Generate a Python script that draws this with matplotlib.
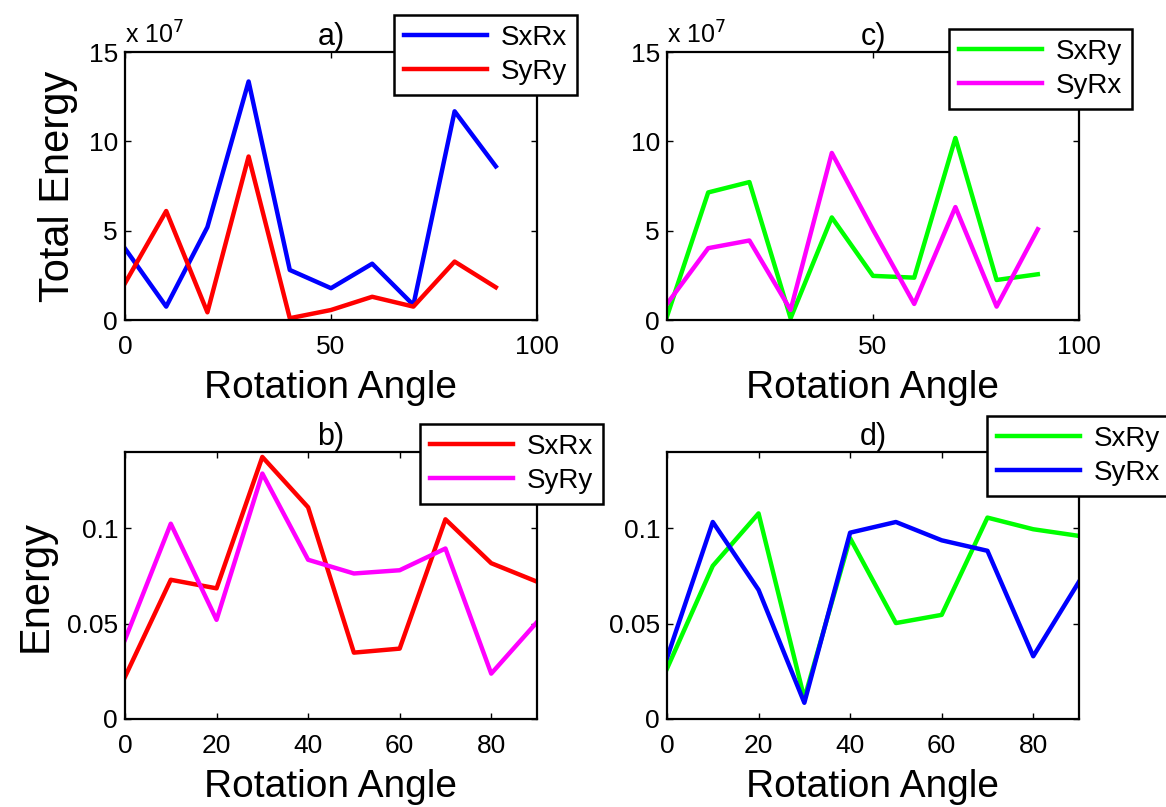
import matplotlib
matplotlib.use('Agg')
import matplotlib.pyplot as plt

# rotation angles (degrees)
angles = [0, 10, 20, 30, 40, 50, 60, 70, 80, 90]

# a) total energy, units of 1e7
total_sxrx = [4.0, 0.75, 5.2, 13.35, 2.8, 1.78, 3.15, 0.84, 11.68, 8.6]
total_syry = [2.06, 6.1, 0.43, 9.15, 0.1, 0.56, 1.3, 0.75, 3.27, 1.83]

# c) total energy, units of 1e7
total_sxry = [0.2, 7.14, 7.72, 0.1, 5.74, 2.47, 2.37, 10.19, 2.24, 2.56]
total_syrx = [0.9, 4.02, 4.45, 0.56, 9.35, 5.05, 0.9, 6.32, 0.75, 5.08]

# b) normalised energy
energy_sxrx = [0.0221, 0.073, 0.0685, 0.1374, 0.111, 0.0348, 0.0369, 0.1047, 0.0817, 0.072]
energy_syry = [0.0416, 0.1024, 0.052, 0.1287, 0.0835, 0.0763, 0.078, 0.0894, 0.0238, 0.0508]

# d) normalised energy
energy_sxry = [0.0264, 0.0803, 0.1078, 0.0108, 0.0948, 0.0503, 0.0546, 0.1056, 0.0995, 0.096]
energy_syrx = [0.032, 0.1033, 0.0677, 0.0085, 0.0977, 0.1033, 0.0937, 0.0882, 0.0329, 0.072]

plt.rcParams['font.family'] = ['Liberation Sans', 'DejaVu Sans']

W, H = 1166, 807
fig = plt.figure(figsize=(W / 100, H / 100), dpi=100)


def _axes_px(left, top, right, bottom):
    return fig.add_axes([left / W, 1 - bottom / H, (right - left) / W, (bottom - top) / H])


def _style(ax):
    ax.tick_params(direction='in', length=4, width=1, labelsize=19, top=True, right=True,
                   colors='black')
    ax.tick_params(axis='x', pad=11)
    ax.tick_params(axis='y', pad=5)
    for s in ax.spines.values():
        s.set_linewidth(1.6)
    ax.set_xlabel('Rotation Angle', fontsize=28, labelpad=8)


def _legend(ax, x, y):
    leg = ax.legend(loc='upper left', bbox_to_anchor=(x / W, 1 - y / H), bbox_transform=fig.transFigure,
                    fontsize=20, handlelength=3.0, handletextpad=0.5, borderpad=0.35,
                    labelspacing=0.3, fancybox=False, framealpha=1, borderaxespad=0)
    leg.get_frame().set_edgecolor('black')
    leg.get_frame().set_linewidth(1.8)


lw = 3.2

ax_a = _axes_px(125, 52, 537, 320)
ax_a.plot(angles, total_sxrx, color='#0000ff', lw=lw, label='SxRx')
ax_a.plot(angles, total_syry, color='#ff0000', lw=lw, label='SyRy')
ax_a.set_xlim(0, 100)
ax_a.set_ylim(0, 15)
ax_a.set_xticks([0, 50, 100])
ax_a.set_yticks([0, 5, 10, 15])
_style(ax_a)
ax_a.set_ylabel('Total Energy', fontsize=30, labelpad=8)
ax_a.set_title('a)', fontsize=22, pad=5)
ax_a.text(0, 1.03, r'x 10$^7$', transform=ax_a.transAxes, fontsize=18)
_legend(ax_a, 394, 15)

ax_c = _axes_px(667, 52, 1079, 320)
ax_c.plot(angles, total_sxry, color='#00ff00', lw=lw, label='SxRy')
ax_c.plot(angles, total_syrx, color='#ff00ff', lw=lw, label='SyRx')
ax_c.set_xlim(0, 100)
ax_c.set_ylim(0, 15)
ax_c.set_xticks([0, 50, 100])
ax_c.set_yticks([0, 5, 10, 15])
_style(ax_c)
ax_c.set_title('c)', fontsize=22, pad=5)
ax_c.text(0, 1.03, r'x 10$^7$', transform=ax_c.transAxes, fontsize=18)
_legend(ax_c, 949, 29)

ax_b = _axes_px(125, 452, 537, 719)
ax_b.plot(angles, energy_sxrx, color='#ff0000', lw=lw, label='SxRx')
ax_b.plot(angles, energy_syry, color='#ff00ff', lw=lw, label='SyRy')
ax_b.set_xlim(0, 90)
ax_b.set_ylim(0, 0.14)
ax_b.set_xticks([0, 20, 40, 60, 80])
ax_b.set_yticks([0, 0.05, 0.1])
ax_b.set_yticklabels(['0', '0.05', '0.1'])
_style(ax_b)
ax_b.set_ylabel('Energy', fontsize=30, labelpad=8)
ax_b.set_title('b)', fontsize=22, pad=5)
_legend(ax_b, 420, 424)

ax_d = _axes_px(667, 452, 1079, 719)
ax_d.plot(angles, energy_sxry, color='#00ff00', lw=lw, label='SxRy')
ax_d.plot(angles, energy_syrx, color='#0000ff', lw=lw, label='SyRx')
ax_d.set_xlim(0, 90)
ax_d.set_ylim(0, 0.14)
ax_d.set_xticks([0, 20, 40, 60, 80])
ax_d.set_yticks([0, 0.05, 0.1])
ax_d.set_yticklabels(['0', '0.05', '0.1'])
_style(ax_d)
ax_d.set_title('d)', fontsize=22, pad=5)
_legend(ax_d, 987, 416)

fig.savefig('out.png', dpi=100)
